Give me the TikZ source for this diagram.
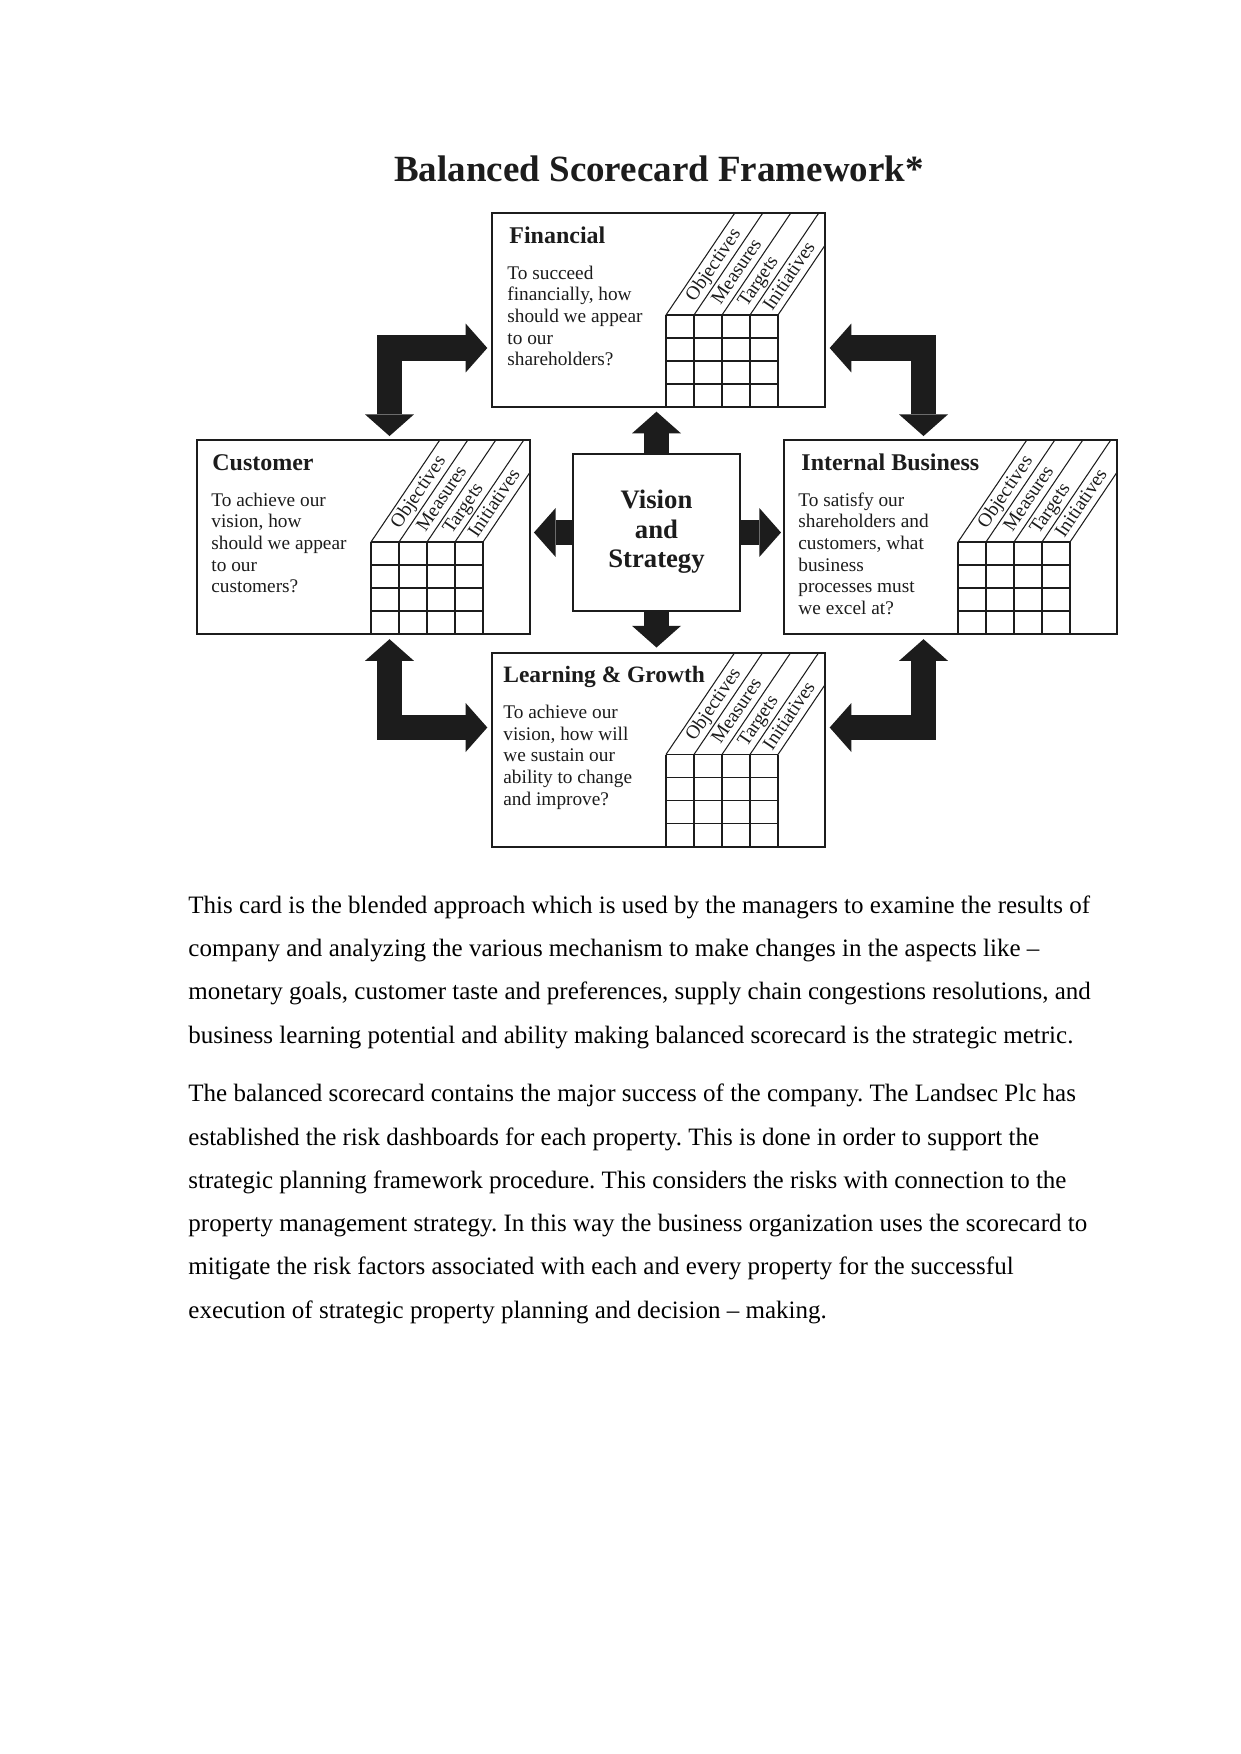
\documentclass[tikz,border=0pt]{standalone}
\usepackage{fontspec}
\setmainfont{Liberation Serif}
\usetikzlibrary{arrows.meta}
\frenchspacing
\definecolor{ink}{HTML}{1C1C1C}
\newcommand\bsclines[1]{\vtop{\def\\{\egroup\hbox\bgroup}\hbox\bgroup#1\egroup}}
\newcommand\bscclines[1]{\vtop{\def\\{\hss\egroup\hbox to 0pt\bgroup\hss}\hbox to 0pt\bgroup\hss#1\hss\egroup}}
\tikzset{
 >={Triangle[width=23.5pt,length=10.4pt,line width=0pt]},
 cardbox/.style={draw=ink, line width=0.96pt, fill=white, minimum width=159.74pt, minimum height=93.06pt, inner sep=0pt, outer sep=0pt, anchor=north west},
 visbox/.style={draw=ink, line width=1.2pt, fill=white, minimum width=80.11pt, minimum height=75.31pt, inner sep=0pt, outer sep=0pt},
 blk/.style={draw=ink, line width=12pt, line join=miter, line cap=butt},
 gridln/.style={draw=ink, line width=0.62pt},
 diagln/.style={draw=ink, line width=0.5pt},
 chead/.style={anchor=base west, inner sep=0pt, text=ink, font=\bfseries\fontsize{11.5pt}{13pt}\selectfont},
 cbody/.style={anchor=base west, inner sep=0pt, text=ink, font=\fontsize{9.26pt}{10.41pt}\selectfont},
 lbl/.style={anchor=base, inner sep=0pt, rotate=56, text=ink, font=\fontsize{9.3pt}{11pt}\selectfont},
 vtext/.style={anchor=base, inner sep=0pt, text=ink, font=\bfseries\fontsize{12.8pt}{14.39pt}\selectfont},
 para/.style={anchor=base west, inner sep=0pt, text=black, font=\fontsize{12pt}{20.77pt}\selectfont},
 ttl/.style={anchor=base, inner sep=0pt, text=ink, font=\bfseries\fontsize{17.75pt}{20pt}\selectfont}
}
\newcommand\bsccard[7]{%
 \node[cardbox] (#1) at (#2,#3) {};
 \begin{scope}[shift={(#1.north west)}]
  \node[chead] (#1head) at (#4,30) {#5};
  \node[cbody] (#1body) at (#6,66) {\bsclines{#7}};
  \foreach \k in {0,...,4} \draw[gridln] (174+28*\k,102) -- (174+28*\k,194);
  \foreach \k in {0,...,3} \draw[gridln] (174,102+23*\k) -- (286,102+23*\k);
  \foreach \k in {0,...,3} \draw[diagln] (174+28*\k,102) -- ++(68.8,-102);
  \draw[diagln] (286,102) -- (333,32.3);
  \node[lbl] (#1obj) at (225.9,55.0) {Objectives};
  \node[lbl] (#1mea) at (249.4,61.6) {Measures};
  \node[lbl] (#1tar) at (270.7,71.6) {Targets};
  \node[lbl] (#1ini) at (302.0,66.6) {Initiatives};
 \end{scope}}
\begin{document}
\begin{tikzpicture}[x=0.4797pt, y=-0.4797pt]
\fill[white] (0,0) rectangle (1241,1754);
\useasboundingbox (0,0) rectangle (1241,1754);

\node[ttl] (title) at (659,182) {Balanced Scorecard Framework*};

\bsccard{fin}{492}{213}{17}{Financial}{15}{To succeed\\financially, how\\should we appear\\to our\\shareholders?}
\bsccard{cus}{197}{440}{15}{Customer}{14}{To achieve our\\vision, how\\should we appear\\to our\\customers?}
\bsccard{int}{784}{440}{17}{Internal Business}{14}{To satisfy our\\shareholders and\\customers, what\\business\\processes must\\we excel at?}
\bsccard{lrn}{492}{652.5}{11}{\fontsize{11.25pt}{13pt}\selectfont Learning \& Growth}{11}{To achieve our\\vision, how will\\we sustain our\\ability to change\\and improve?}

\node[visbox] (vis) at (656.5,532.5) {};
\node[vtext] (vistext) at (656.5,508) {\bscclines{Vision\\and\\Strategy}};

% arrows from the centre
\draw[blk,->,shorten >=2.25pt] (vis.north) -- (vis.north |- fin.south);
\draw[blk,->,shorten >=2.4pt] (vis.south) -- (vis.south |- lrn.north);
\draw[blk,->,shorten >=1.45pt] (vis.east) -- (vis.east -| int.west);
\draw[blk,->,shorten >=1.9pt] (vis.west) -- (vis.west -| cus.east);

% bent arrows between perspectives
\coordinate (c1) at (389.5,348);
\coordinate (c2) at (923.5,348);
\coordinate (c3) at (389.5,727.5);
\coordinate (c4) at (923.5,727.5);
\draw[blk,<->,shorten <=1.9pt,shorten >=2.25pt] (c1 |- cus.north) |- (c1 -| fin.west);
\draw[blk,<->,shorten <=1.9pt,shorten >=2.25pt] (c2 |- int.north) |- (c2 -| fin.east);
\draw[blk,<->,shorten <=2.5pt,shorten >=2.25pt] (c3 |- cus.south) |- (c3 -| lrn.west);
\draw[blk,<->,shorten <=2.5pt,shorten >=2.25pt] (c4 |- int.south) |- (c4 -| lrn.east);

\node[para] (p1) at (188,913.3) {\bsclines{This card is the blended approach which is used by the managers to examine the results of\\company and analyzing the various mechanism to make changes in the aspects like –\\monetary goals, customer taste and preferences, supply chain congestions resolutions, and\\business learning potential and ability making balanced scorecard is the strategic metric.}};
\node[para] (p2) at (188,1101.7) {\bsclines{The balanced scorecard contains the major success of the company. The Landsec Plc has\\established the risk dashboards for each property. This is done in order to support the\\strategic planning framework procedure. This considers the risks with connection to the\\property management strategy. In this way the business organization uses the scorecard to\\mitigate the risk factors associated with each and every property for the successful\\execution of strategic property planning and decision – making.}};
\end{tikzpicture}
\end{document}
